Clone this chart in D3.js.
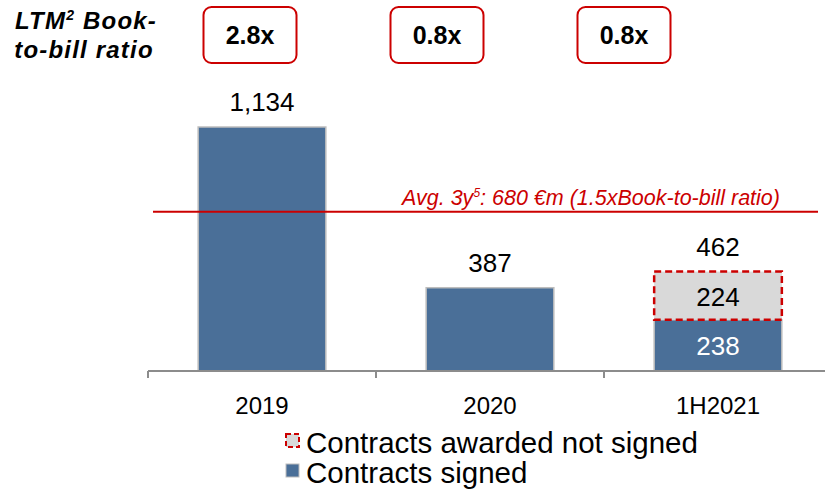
<!DOCTYPE html>
<html>
<head>
<meta charset="utf-8">
<script src="https://cdn.jsdelivr.net/npm/d3@7"></script>
<style>
  body { margin: 0; background: #fff; }
  svg { display: block; font-family: Arial, "Liberation Sans", sans-serif; }
</style>
</head>
<body>
<div id="chart"></div>
<script>
// data
const periods = ["2019", "2020", "1H2021"];
const signed = [1134, 387, 238];
const awardedNotSigned = [0, 0, 224];
const bookToBill = ["2.8x", "0.8x", "0.8x"];
const avgLabel = "680 €m (1.5xBook-to-bill ratio)";
const avgLinePos = 740; // where the line sits on the value scale in the picture
const legendItems = ["Contracts awarded not signed", "Contracts signed"];

const width = 825, height = 491;
const blue = "#4a6f98", grey = "#d9d9d9", red = "#cc0000";

const svg = d3.select("#chart").append("svg")
    .attr("width", width)
    .attr("height", height);

const x = d3.scaleBand().domain(periods).range([148, 832]).paddingInner(0.44).paddingOuter(0.22);
const y = d3.scaleLinear().domain([0, 1134]).range([371, 127]);

// bars
const rows = periods.map((p, i) => ({p, s: signed[i], a: awardedNotSigned[i]}));

svg.selectAll("rect.signed")
  .data(rows)
  .enter().append("rect")
  .attr("class", "signed")
  .attr("x", d => x(d.p))
  .attr("y", d => y(d.s))
  .attr("width", x.bandwidth())
  .attr("height", d => y(0) - y(d.s))
  .attr("fill", blue)
  .attr("stroke", "#bdbdbd")
  .attr("stroke-width", 1.5);

svg.selectAll("rect.awarded")
  .data(rows.filter(d => d.a > 0))
  .enter().append("rect")
  .attr("class", "awarded")
  .attr("x", d => x(d.p))
  .attr("y", d => y(d.s + d.a))
  .attr("width", x.bandwidth())
  .attr("height", d => y(d.s) - y(d.s + d.a))
  .attr("fill", grey)
  .attr("stroke", red)
  .attr("stroke-width", 2.5)
  .attr("stroke-dasharray", "7,4");

// value labels
svg.selectAll("text.total")
  .data(rows)
  .enter().append("text")
  .attr("class", "total")
  .attr("x", d => x(d.p) + x.bandwidth() / 2)
  .attr("y", d => y(d.s + d.a) - 16)
  .attr("text-anchor", "middle")
  .attr("font-size", 26)
  .attr("fill", "#000")
  .text(d => d3.format(",")(d.s + d.a));

rows.filter(d => d.a > 0).forEach(d => {
  const cx = x(d.p) + x.bandwidth() / 2;
  svg.append("text")
    .attr("x", cx)
    .attr("y", (y(d.s) + y(d.s + d.a)) / 2 + 10)
    .attr("text-anchor", "middle")
    .attr("font-size", 26)
    .text(d.a);
  svg.append("text")
    .attr("x", cx)
    .attr("y", (y(0) + y(d.s)) / 2 + 10)
    .attr("text-anchor", "middle")
    .attr("font-size", 26)
    .attr("fill", "#fff")
    .text(d.s);
});

// x axis
const axisY = y(0);
svg.append("line")
  .attr("x1", 148).attr("x2", width)
  .attr("y1", axisY).attr("y2", axisY)
  .attr("stroke", "#8c8c8c").attr("stroke-width", 2);

svg.selectAll("line.tick")
  .data(periods)
  .enter().append("line")
  .attr("class", "tick")
  .attr("x1", (d, i) => 148 + i * x.step())
  .attr("x2", (d, i) => 148 + i * x.step())
  .attr("y1", axisY).attr("y2", axisY + 7)
  .attr("stroke", "#8c8c8c").attr("stroke-width", 2);

svg.selectAll("text.cat")
  .data(periods)
  .enter().append("text")
  .attr("class", "cat")
  .attr("x", d => x(d) + x.bandwidth() / 2)
  .attr("y", 414)
  .attr("text-anchor", "middle")
  .attr("font-size", 24)
  .text(d => d);

// average line
svg.append("line")
  .attr("x1", 153).attr("x2", 818)
  .attr("y1", y(avgLinePos)).attr("y2", y(avgLinePos))
  .attr("stroke", red).attr("stroke-width", 2);

const avgText = svg.append("text")
  .attr("x", 780)
  .attr("y", y(avgLinePos) - 7)
  .attr("text-anchor", "end")
  .attr("font-size", 21.5)
  .attr("font-style", "italic")
  .attr("fill", red);
avgText.append("tspan").text("Avg. 3y");
avgText.append("tspan").attr("font-size", 12).attr("dy", -8).text("5");
avgText.append("tspan").attr("dy", 8).text(": " + avgLabel);

// title
const title = svg.append("g").attr("font-weight", "bold").attr("font-style", "italic")
  .attr("font-size", 24).attr("letter-spacing", 1.2);
const t1 = title.append("text").attr("x", 86).attr("y", 29).attr("text-anchor", "middle");
t1.append("tspan").text("LTM");
t1.append("tspan").attr("font-size", 14).attr("dy", -9).text("2");
t1.append("tspan").attr("dy", 9).text(" Book-");
title.append("text").attr("x", 84).attr("y", 58).attr("text-anchor", "middle").text("to-bill ratio");

// book-to-bill boxes
const bx = d3.scalePoint().domain(periods).range([250, 624]);
const boxes = svg.selectAll("g.btb")
  .data(periods)
  .enter().append("g")
  .attr("class", "btb")
  .attr("transform", d => `translate(${bx(d)},35)`);
boxes.append("rect")
  .attr("x", -46.5).attr("y", -28)
  .attr("width", 93).attr("height", 56)
  .attr("rx", 8)
  .attr("fill", "#fff")
  .attr("stroke", red)
  .attr("stroke-width", 2);
boxes.append("text")
  .attr("text-anchor", "middle")
  .attr("y", 9)
  .attr("font-size", 25)
  .attr("font-weight", "bold")
  .text((d, i) => bookToBill[i]);

// legend
const legend = svg.selectAll("g.leg")
  .data(legendItems)
  .enter().append("g")
  .attr("class", "leg")
  .attr("transform", (d, i) => `translate(286,${434 + i * 30})`);
legend.append("rect")
  .attr("width", 13).attr("height", 13)
  .attr("fill", (d, i) => i === 0 ? grey : blue)
  .attr("stroke", (d, i) => i === 0 ? red : "#bdbdbd")
  .attr("stroke-width", (d, i) => i === 0 ? 2 : 1)
  .attr("stroke-dasharray", (d, i) => i === 0 ? "5,3" : null);
legend.append("text")
  .attr("x", 20)
  .attr("y", 19)
  .attr("font-size", 29.5)
  .text(d => d);
</script>
</body>
</html>
